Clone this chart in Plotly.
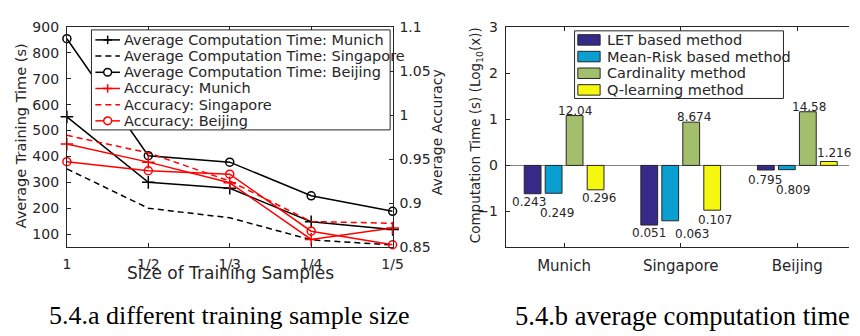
import numpy as np
import plotly.graph_objects as go

W, H = 860, 336

# ---------------- data: left chart ----------------
SIZES = ["1", "1/2", "1/3", "1/4", "1/5"]
TIME_MUNICH = [553, 300, 277, 148, 118]
TIME_SINGAPORE = [352, 200, 163, 78, 58]
TIME_BEIJING = [855, 403, 378, 248, 188]
ACC_MUNICH = [0.967, 0.9465, 0.923, 0.8587, 0.8717]
ACC_SINGAPORE = [0.977, 0.957, 0.925, 0.879, 0.877]
ACC_BEIJING = [0.947, 0.9367, 0.9328, 0.868, 0.8526]
TIME_TICKS = [100, 200, 300, 400, 500, 600, 700, 800, 900]
ACC_TICKS = [0.85, 0.9, 0.95, 1.0, 1.05, 1.1]
ACC_TICK_TEXT = ["0.85", "0.9", "0.95", "1", "1.05", "1.1"]
LINE_NAMES = ["Average Computation Time: Munich", "Average Computation Time: Singapore",
              "Average Computation Time: Beijing", "Accuracy: Munich",
              "Accuracy: Singapore", "Accuracy: Beijing"]

# ---------------- data: right chart ----------------
CITIES = ["Munich", "Singapore", "Beijing"]
METHODS = ["LET based method", "Mean-Risk based method",
           "Cardinality method", "Q-learning method"]
LET_TIME = [0.243, 0.051, 0.795]
MEANRISK_TIME = [0.249, 0.063, 0.809]
CARD_TIME = [12.04, 8.674, 14.58]
QL_TIME = [0.296, 0.107, 1.216]
LOG_TICKS = [-1, 0, 1, 2, 3]

# ---------------- styling ----------------
INK = "#262626"
FONT = "DejaVu Sans"
BAR_COLORS = ["#352a87", "#0a9fd1", "#a3bf6b", "#f5f70f"]
BLACK, RED = "black", "#ff0000"
DASH = "6px,4px"
# per line series: (colour, dashed?, marker)
LINE_STYLES = [(BLACK, False, "+"), (BLACK, True, None), (BLACK, False, "o"),
               (RED, False, "+"), (RED, True, None), (RED, False, "o")]
# value-label offsets in px (dx, distance of label centre from bar end)
LABEL_OFFSETS = [
    [(-4, 8), (0, 8), (-1, 10)],
    [(3, 20), (22, 13), (6, 20)],
    [(0, 5), (3, 5), (1, 5)],
    [(3, 8), (3, 10), (5, 8)],
]


def px(x):
    return x / W


def py(y):
    return 1 - y / H


fig = go.Figure()

# ---------- left chart traces ----------
LINE_DATA = [(TIME_MUNICH, "y"), (TIME_SINGAPORE, "y"), (TIME_BEIJING, "y"),
             (ACC_MUNICH, "y2"), (ACC_SINGAPORE, "y2"), (ACC_BEIJING, "y2")]
for (vals, yax), name, (col, dashed, mk) in zip(LINE_DATA, LINE_NAMES, LINE_STYLES):
    kw = dict(x=SIZES, y=vals, name=name, xaxis="x", yaxis=yax, cliponaxis=False,
              line=dict(color=col, width=1.5, dash=DASH if dashed else "solid"))
    if mk == "+":
        kw.update(mode="lines+markers",
                  marker=dict(symbol="cross-thin", size=9, line=dict(color=col, width=1.5)))
    elif mk == "o":
        kw.update(mode="lines+markers",
                  marker=dict(symbol="circle-open", size=8, color=col,
                              line=dict(color=col, width=1.5)))
    else:
        kw.update(mode="lines")
    fig.add_trace(go.Scatter(**kw))

# ---------- right chart traces ----------
SERIES = [LET_TIME, MEANRISK_TIME, CARD_TIME, QL_TIME]
for name, vals, col in zip(METHODS, SERIES, BAR_COLORS):
    fig.add_trace(go.Bar(x=CITIES, y=list(np.log10(vals)), name=name,
                         marker=dict(color=col, line=dict(color=INK, width=1)),
                         xaxis="x2", yaxis="y3"))

BARGAP, GROUPGAP = 0.28, 0.2
slot = (1 - BARGAP) / len(SERIES)
annotations = []
for j, vals in enumerate(SERIES):
    for i, v in enumerate(vals):
        lv = float(np.log10(v))
        dx, dd = LABEL_OFFSETS[j][i]
        annotations.append(dict(
            x=i + (j - (len(SERIES) - 1) / 2) * slot, y=lv, xref="x2", yref="y3",
            text=f"{v:g}", showarrow=False, xanchor="center", yanchor="middle",
            xshift=dx, yshift=dd if lv >= 0 else -dd,
            font=dict(family=FONT, size=12, color=INK)))


def paper_text(text, x, y, size, angle=0, family=FONT, color=INK, xanchor="center"):
    return dict(text=text, x=px(x), y=py(y), xref="paper", yref="paper", showarrow=False,
                xanchor=xanchor, yanchor="middle", textangle=angle,
                font=dict(family=family, size=size, color=color))


annotations += [
    paper_text("Size of Training Samples", 231, 278, 17),
    paper_text("Average Training Time (s)", 17, 134, 14.5, angle=-90),
    paper_text("Average Accuracy", 440, 130, 14, angle=-90),
    paper_text("Computation Time (s) (Log<sub>10</sub>(x))", 480, 134, 13.5, angle=-90),
    paper_text("5.4.a different training sample size", 229, 323, 26,
               family="Liberation Serif", color="black"),
    paper_text("5.4.b average computation time", 691, 323, 26.5,
               family="Liberation Serif", color="black"),
]

# ---------- hand-drawn legends (MATLAB-style boxes) ----------
shapes = []
# left legend
LX0, LY0, LX1, LY1 = 89, 23, 393, 128
shapes.append(dict(type="rect", xref="paper", yref="paper", x0=px(LX0), x1=px(LX1),
                   y0=py(LY1), y1=py(LY0), fillcolor="white",
                   line=dict(color=INK, width=1), layer="above"))
for k, (name, (col, dashed, mk)) in enumerate(zip(LINE_NAMES, LINE_STYLES)):
    yr = 33.5 + 17 * k
    shapes.append(dict(type="line", xref="paper", yref="paper", x0=px(93), x1=px(118),
                       y0=py(yr), y1=py(yr), layer="above",
                       line=dict(color=col, width=1.5, dash=DASH if dashed else "solid")))
    if mk == "+":
        shapes.append(dict(type="line", xref="paper", yref="paper", x0=px(101), x1=px(110),
                           y0=py(yr), y1=py(yr), layer="above", line=dict(color=col, width=1.5)))
        shapes.append(dict(type="line", xref="paper", yref="paper", x0=px(105.5), x1=px(105.5),
                           y0=py(yr + 4.5), y1=py(yr - 4.5), layer="above",
                           line=dict(color=col, width=1.5)))
    elif mk == "o":
        shapes.append(dict(type="circle", xref="paper", yref="paper", x0=px(101.5), x1=px(109.5),
                           y0=py(yr + 4), y1=py(yr - 4), layer="above", fillcolor="white",
                           line=dict(color=col, width=1.5)))
    annotations.append(paper_text(name, 120, yr, 14.5, xanchor="left"))

# right legend
RX0, RY0, RX1, RY1 = 580.7, 24, 793.3, 95
shapes.append(dict(type="rect", xref="paper", yref="paper", x0=px(RX0), x1=px(RX1),
                   y0=py(RY1), y1=py(RY0), fillcolor="white",
                   line=dict(color=INK, width=1), layer="above"))
for k, (name, col) in enumerate(zip(METHODS, BAR_COLORS)):
    yr = 33.5 + 17.5 * k
    shapes.append(dict(type="rect", xref="paper", yref="paper", x0=px(584), x1=px(606.7),
                       y0=py(yr + 5.5), y1=py(yr - 5.5), fillcolor=col, layer="above",
                       line=dict(color=INK, width=1)))
    annotations.append(paper_text(name, 611.7, yr, 14.5, xanchor="left"))

axis_common = dict(showline=True, linecolor=INK, linewidth=1, ticks="inside", ticklen=4,
                   tickwidth=1, tickcolor=INK, showgrid=False, zeroline=False,
                   tickfont=dict(family=FONT, size=14, color=INK))

fig.update_layout(
    width=W, height=H, margin=dict(l=0, r=0, t=0, b=0),
    paper_bgcolor="white", plot_bgcolor="white",
    font=dict(family=FONT, size=14, color=INK),
    showlegend=False,
    barmode="group", bargap=BARGAP, bargroupgap=GROUPGAP,
    xaxis=dict(axis_common, domain=[px(64), px(395.5)], anchor="y", type="category",
               range=[0, 4], mirror="ticks", ticklabelstandoff=4),
    yaxis=dict(axis_common, domain=[py(251), py(20)], anchor="x", range=[50, 900],
               tickvals=TIME_TICKS, ticklabelstandoff=4),
    yaxis2=dict(axis_common, overlaying="y", side="right", anchor="x", range=[0.85, 1.1],
                tickvals=ACC_TICKS, ticktext=ACC_TICK_TEXT, ticklabelstandoff=3),
    xaxis2=dict(axis_common, domain=[px(510.7), 1], anchor="y3", type="category",
                range=[-0.5, 2.443], mirror="ticks", ticklabelstandoff=5,
                tickfont=dict(family=FONT, size=15, color=INK)),
    yaxis3=dict(axis_common, domain=[py(251), py(20)], anchor="x2", range=[-1.77, 3],
                tickvals=LOG_TICKS, ticklabelstandoff=4,
                zeroline=True, zerolinecolor="#808080", zerolinewidth=1),
    annotations=annotations,
    shapes=shapes,
)

fig.write_html("out.html")
